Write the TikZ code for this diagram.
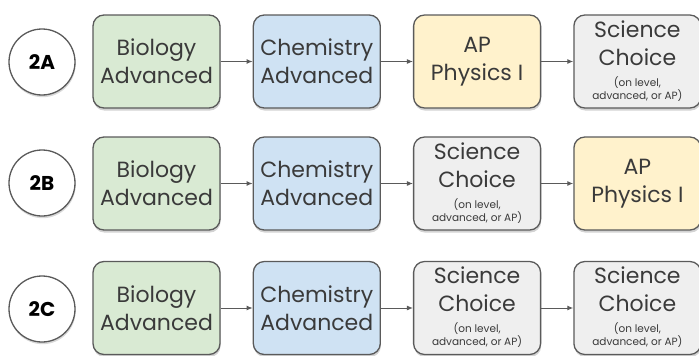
\documentclass[tikz,border=0pt]{standalone}
\usepackage{fontspec}
\setmainfont{Poppins}
\usetikzlibrary{positioning,shadows,arrows.meta}

\definecolor{bio}{HTML}{D9EAD3}
\definecolor{chem}{HTML}{CFE2F3}
\definecolor{phys}{HTML}{FFF2CC}
\definecolor{choice}{HTML}{EFEFEF}
\definecolor{rim}{HTML}{5A5A5A}
\definecolor{ink}{HTML}{3A3A3A}

\tikzset{
  course/.style={draw=rim, line width=1.3pt, rounded corners=11pt,
    minimum width=127pt, minimum height=93pt, inner sep=2pt,
    align=center, text=ink, font=\fontsize{22}{28}\selectfont,
    drop shadow={shadow xshift=0.6pt, shadow yshift=-2.6pt, opacity=0.35}},
  track/.style={circle, draw=rim, line width=1.3pt, fill=white, minimum size=66pt,
    inner sep=0pt, font=\fontsize{20}{22}\selectfont\bfseries, text=black,
    drop shadow={shadow xshift=0.6pt, shadow yshift=-2.2pt, opacity=0.3}},
  link/.style={draw=rim, line width=1pt, -{Latex[length=6pt,width=5pt]}},
}
\newcommand{\choicetext}{Science\\Choice\\[-7pt]%
  \fontsize{10.5}{11}\selectfont
  \begin{tabular}[t]{@{}c@{}}(on level,\\advanced, or AP)\end{tabular}}

\begin{document}
\begin{tikzpicture}[x=1pt,y=1pt,node distance=32pt]
  \useasboundingbox (0,0) rectangle (699,-356);

  % 2A
  \node[track] (ta) at (42,-62) {2A};
  \node[course, fill=bio] (ba) at (156.5,-61.5) {Biology\\Advanced};
  \node[course, fill=chem, right=of ba] (ca) {Chemistry\\Advanced};
  \node[course, fill=phys, right=of ca] (pa) {AP\\Physics I};
  \node[course, fill=choice, right=of pa] (sa) {\choicetext};
  \draw[link] (ba) -- (ca);
  \draw[link] (ca) -- (pa);
  \draw[link] (pa) -- (sa);

  % 2B
  \node[track] (tb) at (42,-183) {2B};
  \node[course, fill=bio] (bb) at (156.5,-183.5) {Biology\\Advanced};
  \node[course, fill=chem, right=of bb] (cb) {Chemistry\\Advanced};
  \node[course, fill=choice, right=of cb] (sb) {\choicetext};
  \node[course, fill=phys, right=of sb] (pb) {AP\\Physics I};
  \draw[link] (bb) -- (cb);
  \draw[link] (cb) -- (sb);
  \draw[link] (sb) -- (pb);

  % 2C
  \node[track] (tc) at (42,-309) {2C};
  \node[course, fill=bio] (bc) at (156.5,-308) {Biology\\Advanced};
  \node[course, fill=chem, right=of bc] (cc) {Chemistry\\Advanced};
  \node[course, fill=choice, right=of cc] (sc) {\choicetext};
  \node[course, fill=choice, right=of sc] (sd) {\choicetext};
  \draw[link] (bc) -- (cc);
  \draw[link] (cc) -- (sc);
  \draw[link] (sc) -- (sd);
\end{tikzpicture}
\end{document}
